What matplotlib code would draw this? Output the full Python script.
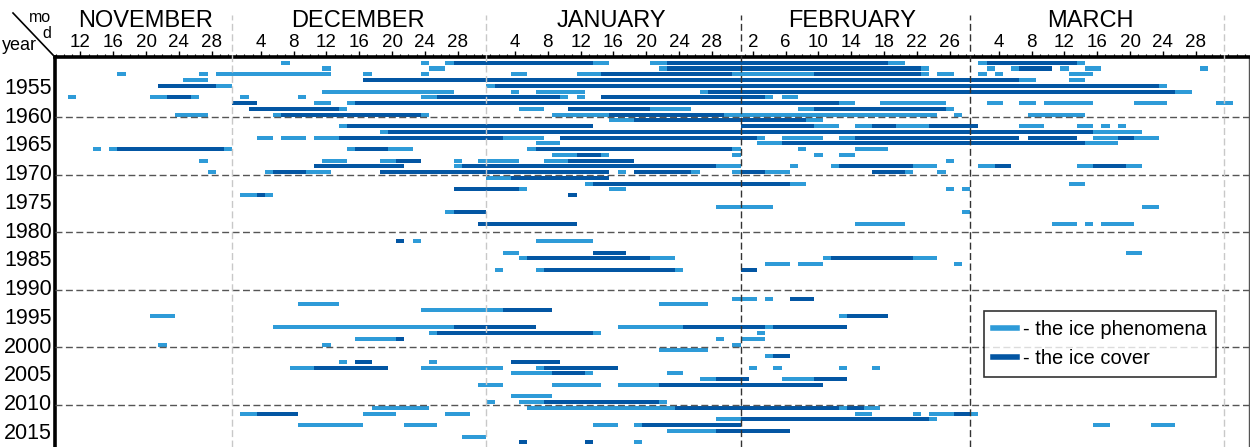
import matplotlib
matplotlib.use('Agg')
import matplotlib.pyplot as plt
import matplotlib.transforms as mtransforms
from matplotlib.lines import Line2D
from matplotlib import font_manager

names = set(f.name for f in font_manager.fontManager.ttflist)
fams = [f for f in ['Liberation Sans Narrow', 'Liberation Sans', 'DejaVu Sans'] if f in names]
plt.rcParams['font.family'] = fams

# day numbers are counted from the start of 1 November (1 Nov = 0, 1 Dec = 30, ...)
months = ['NOVEMBER', 'DECEMBER', 'JANUARY', 'FEBRUARY', 'MARCH']
month_start = [0, 30, 61, 92, 120]
month_label_x = [19.4, 45.3, 76.3, 105.6, 134.7]
day_labels = [[12, 16, 20, 24, 28],
              [4, 8, 12, 16, 20, 24, 28],
              [4, 8, 12, 16, 20, 24, 28],
              [2, 6, 10, 14, 18, 22, 26],
              [4, 8, 12, 16, 20, 24, 28]]
year_ticks = list(range(1955, 2016, 5))
decade_lines = [1960.5, 1970.5, 1980.5, 1990.5, 2000.5, 2010.5]

# ice phenomena (light) : (year, first day, last day)
phenomena = [
    (1951, 36, 37), (1951, 53, 54), (1951, 56, 76), (1951, 81, 112), (1951, 121, 134),
    (1952, 41, 42), (1952, 54, 56), (1952, 82, 115), (1952, 122, 123), (1952, 125, 130),
    (1952, 131, 132), (1952, 134, 136), (1952, 148, 149),
    (1953, 16, 17), (1953, 26, 27), (1953, 28, 42), (1953, 46, 47), (1953, 53, 54),
    (1953, 64, 66), (1953, 72, 115), (1953, 116, 118), (1953, 121, 122), (1953, 123, 124),
    (1953, 132, 135),
    (1954, 24, 27), (1954, 46, 128), (1954, 132, 134),
    (1955, 21, 30), (1955, 61, 144),
    (1956, 41, 57), (1956, 64, 65), (1956, 67, 73), (1956, 87, 147),
    (1957, 10, 11), (1957, 20, 26), (1957, 31, 32), (1957, 38, 39), (1957, 53, 71),
    (1957, 72, 73), (1957, 75, 96), (1957, 97, 99),
    (1958, 40, 42), (1958, 44, 106), (1958, 109, 117), (1958, 122, 124), (1958, 126, 128),
    (1958, 129, 135), (1958, 140, 144), (1958, 150, 152),
    (1959, 32, 44), (1959, 65, 68), (1959, 71, 86), (1959, 99, 118),
    (1960, 23, 27), (1960, 35, 54), (1960, 69, 116), (1960, 118, 119), (1960, 127, 134),
    (1961, 76, 102),
    (1962, 43, 74), (1962, 92, 104), (1962, 106, 121), (1962, 126, 129), (1962, 133, 135),
    (1962, 136, 137), (1962, 138, 139),
    (1963, 48, 141),
    (1964, 33, 35), (1964, 36, 39), (1964, 40, 68), (1964, 70, 95), (1964, 97, 102),
    (1964, 104, 126), (1964, 135, 143),
    (1965, 67, 70), (1965, 94, 138),
    (1966, 13, 14), (1966, 15, 30), (1966, 44, 52), (1966, 66, 92), (1966, 99, 100),
    (1966, 106, 110),
    (1967, 69, 76), (1967, 91, 92), (1967, 101, 102), (1967, 104, 106),
    (1968, 26, 27), (1968, 41, 44), (1968, 48, 53), (1968, 57, 58), (1968, 60, 65),
    (1968, 68, 79), (1968, 117, 118),
    (1969, 57, 92), (1969, 98, 99), (1969, 103, 116), (1969, 121, 125), (1969, 133, 141),
    (1970, 27, 28), (1970, 34, 42), (1970, 77, 78), (1970, 79, 87), (1970, 91, 98),
    (1970, 108, 113), (1970, 116, 117),
    (1971, 61, 76),
    (1972, 73, 100), (1972, 132, 134),
    (1973, 57, 66), (1973, 76, 78), (1973, 117, 118), (1973, 119, 120),
    (1974, 31, 35),
    (1976, 89, 96), (1976, 141, 143),
    (1977, 56, 61), (1977, 119, 120),
    (1979, 106, 112), (1979, 130, 133), (1979, 134, 135), (1979, 136, 140),
    (1982, 52, 53), (1982, 67, 74),
    (1984, 63, 65), (1984, 139, 141),
    (1985, 65, 84), (1985, 102, 116),
    (1986, 95, 98), (1986, 99, 102), (1986, 118, 119),
    (1987, 62, 63), (1987, 67, 85),
    (1992, 91, 94), (1992, 95, 96),
    (1993, 38, 43), (1993, 82, 88),
    (1994, 53, 69),
    (1995, 20, 23), (1995, 104, 110),
    (1997, 35, 67), (1997, 77, 105),
    (1998, 54, 75), (1998, 94, 95),
    (1999, 45, 51), (1999, 89, 90), (1999, 92, 95),
    (2000, 21, 22), (2000, 41, 42), (2000, 91, 92),
    (2001, 82, 88),
    (2002, 95, 98),
    (2003, 43, 44), (2003, 54, 55),
    (2004, 37, 49), (2004, 53, 63), (2004, 67, 77), (2004, 93, 94), (2004, 96, 97),
    (2004, 104, 105), (2004, 108, 109),
    (2005, 64, 74), (2005, 83, 85),
    (2006, 87, 93), (2006, 97, 105),
    (2007, 60, 63), (2007, 69, 75), (2007, 77, 102),
    (2009, 64, 69),
    (2010, 61, 62), (2010, 65, 83),
    (2011, 47, 54), (2011, 66, 109),
    (2012, 31, 38), (2012, 46, 50), (2012, 56, 59), (2012, 106, 108), (2012, 113, 114),
    (2012, 115, 121),
    (2013, 89, 116),
    (2014, 38, 46), (2014, 51, 55), (2014, 74, 77), (2014, 79, 92), (2014, 135, 137),
    (2014, 142, 145),
    (2015, 83, 98),
    (2016, 58, 61),
    (2017, 79, 80),
]

# ice cover (dark) : (year, first day, last day)
cover = [
    (1951, 57, 74), (1951, 83, 110), (1951, 122, 133),
    (1952, 83, 114), (1952, 126, 130),
    (1953, 75, 91), (1953, 101, 114),
    (1954, 46, 126),
    (1955, 21, 28), (1955, 62, 143),
    (1956, 88, 145),
    (1957, 22, 25), (1957, 55, 70), (1957, 75, 95),
    (1958, 30, 33), (1958, 45, 104),
    (1959, 32, 43), (1959, 71, 81), (1959, 101, 117),
    (1960, 36, 53), (1960, 76, 90),
    (1961, 79, 100),
    (1962, 44, 74), (1962, 92, 101), (1962, 108, 111), (1962, 115, 121),
    (1963, 49, 135),
    (1964, 43, 63), (1964, 70, 94), (1964, 106, 126), (1964, 127, 133), (1964, 138, 140),
    (1965, 97, 134),
    (1966, 16, 29), (1966, 45, 49), (1966, 67, 91),
    (1967, 72, 75),
    (1968, 50, 53), (1968, 71, 79),
    (1969, 40, 51), (1969, 58, 89), (1969, 104, 113), (1969, 123, 125), (1969, 135, 139),
    (1970, 35, 39), (1970, 48, 76), (1970, 79, 86), (1970, 92, 95), (1970, 108, 112),
    (1971, 64, 76),
    (1972, 74, 98),
    (1973, 57, 65),
    (1974, 33, 34), (1974, 71, 72),
    (1977, 57, 61),
    (1979, 60, 72),
    (1982, 50, 51),
    (1984, 74, 78),
    (1985, 66, 81), (1985, 103, 113),
    (1987, 68, 84), (1987, 92, 94),
    (1992, 98, 101),
    (1994, 63, 69),
    (1995, 105, 110),
    (1997, 57, 67), (1997, 85, 95), (1997, 96, 105),
    (1998, 55, 74),
    (1999, 50, 51),
    (2002, 96, 98),
    (2003, 45, 47), (2003, 64, 70),
    (2004, 40, 49), (2004, 68, 77),
    (2005, 69, 73),
    (2006, 89, 93), (2006, 101, 105),
    (2007, 82, 102),
    (2010, 68, 82),
    (2011, 84, 104), (2011, 105, 107),
    (2012, 33, 38), (2012, 118, 120),
    (2013, 92, 115),
    (2014, 80, 92),
    (2015, 89, 98),
    (2017, 65, 66), (2017, 73, 74),
]

light = '#2E9BD8'
darkc = '#0356A3'

fig = plt.figure(figsize=(12.5, 4.47), dpi=100)
ax = fig.add_axes([55 / 1250, 0, 1194 / 1250, 390 / 447])

for yr, a, b in phenomena:
    ax.barh(yr, b - a, left=a, height=0.7, color=light, edgecolor='none', zorder=2)
for yr, a, b in cover:
    ax.barh(yr, b - a, left=a, height=0.7, color=darkc, edgecolor='none', zorder=3)

ax.set_xlim(8.4, 154.0)
ax.set_ylim(2017.8, 1950.0)

# dashed decade lines
for y in decade_lines:
    ax.axhline(y, color='#555555', lw=1.0, ls=(0, (5, 2.5)), zorder=4)

# month separators, reaching up into the header
trans = mtransforms.blended_transform_factory(ax.transData, ax.transAxes)
for d, c in [(30, '#c8c8c8'), (61, '#c8c8c8'), (92, '#333333'), (120, '#333333'), (151, '#c8c8c8')]:
    ax.plot([d, d], [0, 1.108], transform=trans, color=c, lw=1.0, ls=(0, (5, 2.5)),
            clip_on=False, zorder=4)

# month names
for name, x in zip(months, month_label_x):
    ax.text(x, 1.093, name, transform=trans, ha='center', va='center', fontsize=17)

# day ticks on top
major_pos, major_lab = [], []
for start, days in zip(month_start, day_labels):
    for dd in days:
        major_pos.append(start + dd - 0.5)
        major_lab.append(str(dd))
ax.xaxis.tick_top()
ax.set_xticks(major_pos)
ax.set_xticklabels(major_lab, fontsize=13.5)
ax.set_xticks([i + 0.5 for i in range(8, 154)], minor=True)
ax.tick_params(axis='x', which='major', length=4, width=1, pad=0, direction='out')
ax.tick_params(axis='x', which='minor', length=2.5, width=0.8, direction='out')

ax.set_yticks(year_ticks)
ax.set_yticklabels([str(y) for y in year_ticks], fontsize=15.5)
ax.tick_params(axis='y', length=0, pad=2)

ax.spines['bottom'].set_visible(False)
ax.spines['top'].set_linewidth(2.6)
ax.spines['left'].set_linewidth(2.6)
ax.spines['right'].set_linewidth(1.0)
ax.spines['right'].set_color('#555555')

# corner header
fig.add_artist(Line2D([13 / 1250, 53 / 1250], [1 - 13 / 447, 1 - 55 / 447], color='k', lw=1.2))
fig.text(40 / 1250, 1 - 18 / 447, 'mo', ha='center', va='center', fontsize=11.5)
fig.text(46.5 / 1250, 1 - 33 / 447, 'd', ha='center', va='center', fontsize=11.5)
fig.text(19.5 / 1250, 1 - 46 / 447, 'year', ha='center', va='center', fontsize=13)

handles = [Line2D([], [], color=light, lw=4), Line2D([], [], color=darkc, lw=4)]
leg = ax.legend(handles, ['- the ice phenomena', '- the ice cover'], loc='upper left',
                bbox_to_anchor=((984 - 55) / 1194, 1 - (311 - 57) / 390), fontsize=14.5,
                frameon=True, fancybox=False, handlelength=1.2, handletextpad=0.3,
                borderpad=0.45, labelspacing=0.5, borderaxespad=0)
leg.get_frame().set_edgecolor('black')
leg.get_frame().set_linewidth(1.2)
leg.set_zorder(10)

fig.savefig('out.png', dpi=100)
